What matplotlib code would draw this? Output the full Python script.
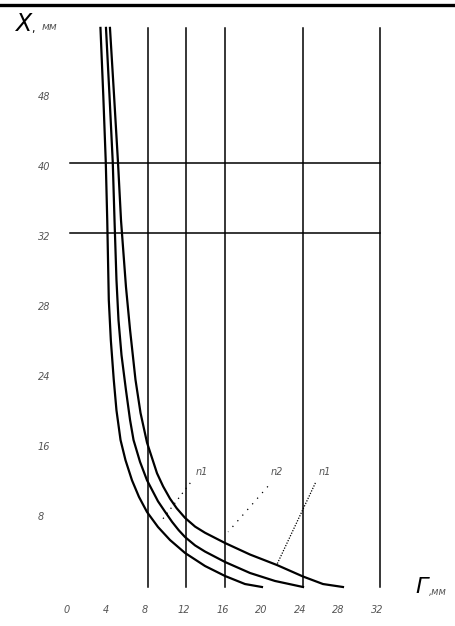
import matplotlib
matplotlib.use("Agg")
from matplotlib import pyplot as plt

# curves: G (mm) against X (mm)
g_inner = [3.14, 3.43, 3.69, 3.84, 4.00, 4.21, 4.51, 4.79, 5.21, 5.72, 6.39, 7.11,
           7.94, 9.07, 10.31, 11.86, 13.92, 15.98, 18.04, 19.79]
x_inner = [63.9, 56.2, 48.5, 41.9, 32.8, 28.2, 23.7, 20.2, 16.8, 14.5, 12.2, 10.3,
           8.57, 6.86, 5.37, 3.89, 2.40, 1.26, 0.34, 0.0]

g_mid = [3.71, 4.07, 4.41, 4.59, 4.79, 5.00, 5.31, 5.77, 6.19, 6.55, 7.22, 7.94,
         9.07, 9.8, 10.52, 11.2, 11.86, 12.9, 13.92, 15.98, 18.56, 21.13, 24.02]
x_mid = [63.9, 56.2, 48.5, 41.9, 35.1, 30.5, 26.5, 22.5, 19.1, 16.8, 14.3, 12.2,
         9.8, 8.6, 7.45, 6.5, 5.71, 4.75, 4.05, 2.86, 1.60, 0.69, 0.0]

g_outer = [4.12, 4.54, 4.95, 5.26, 5.77, 6.19, 6.75, 7.27, 7.94, 8.97, 9.6, 10.31,
           11.0, 11.86, 12.9, 13.92, 15.98, 18.56, 21.34, 24.02, 26.08, 28.14]
x_outer = [63.9, 56.2, 48.5, 41.9, 34.3, 29.4, 23.7, 19.9, 16.5, 13.0, 11.5, 10.1,
           9.0, 7.9, 6.9, 6.2, 5.03, 3.71, 2.51, 1.20, 0.34, 0.0]

grid_v = [8, 12, 16, 24, 32]
grid_h = [40.5, 48.5]

xtick_pos = [0, 4, 8, 12, 16, 20, 24, 28, 32]
xtick_lab = ["0", "4", "8", "12", "16", "20", "24", "28", "32"]
ytick_pos = [8, 16, 24, 32, 40, 48, 56]
ytick_lab = ["8", "16", "24", "28", "32", "40", "48"]

# callouts: label, label position, leader start, leader end, dash pattern
callouts = [
    ("n1", (13.6, 13.2), (12.4, 11.9), (9.45, 7.6), (0, (1, 4))),
    ("n2", (21.3, 13.2), (20.4, 11.5), (16.3, 6.3), (0, (1, 5))),
    ("n1", (26.3, 13.2), (25.3, 11.9), (21.3, 2.5), (0, (1, 1.2))),
]

fig = plt.figure(figsize=(4.55, 6.26), dpi=100)
ax = fig.add_axes([0, 0, 1, 1])
ax.set_xlim(-7.216, 39.69)
ax.set_ylim(-4.457, 67.09)
ax.axis("off")

# frame line at the top
ax.axhline(66.5, color="black", lw=2.4)

for g in grid_v:
    ax.plot([g, g], [0, 63.9], color="black", lw=1.1)
for h in grid_h:
    ax.plot([0, 32], [h, h], color="black", lw=1.1)

for g, x in [(g_inner, x_inner), (g_mid, x_mid), (g_outer, x_outer)]:
    ax.plot(g, x, color="black", lw=1.6, solid_joinstyle="round")

tick_style = dict(color="#555555", fontsize=7, style="italic", family="DejaVu Sans")
for p, s in zip(xtick_pos, xtick_lab):
    ax.text(p - 0.3, -2.6, s, ha="center", va="center", **tick_style)
for p, s in zip(ytick_pos, ytick_lab):
    ax.text(-3.3, p, s, ha="left", va="center", **tick_style)

for lab, lp, a, b, ls in callouts:
    ax.plot([a[0], b[0]], [a[1], b[1]], color="black", lw=0.9, linestyle=ls)
    ax.text(lp[0], lp[1], lab, ha="center", va="center", **tick_style)

# axis names
ax.text(-4.8, 64.4, "X", fontsize=17, style="italic", ha="center", va="center")
ax.text(-4.0, 63.8, ",", fontsize=8, ha="left", va="center")
ax.text(-2.9, 64.0, "мм", color="#555555", fontsize=7.5, style="italic",
        ha="left", va="center")
ax.text(36.2, 0.0, "Г", fontsize=16, style="italic", ha="center", va="center")
ax.text(37.0, -0.6, ",мм", color="#555555", fontsize=7, style="italic",
        ha="left", va="center")

fig.savefig("out.png", dpi=100)
